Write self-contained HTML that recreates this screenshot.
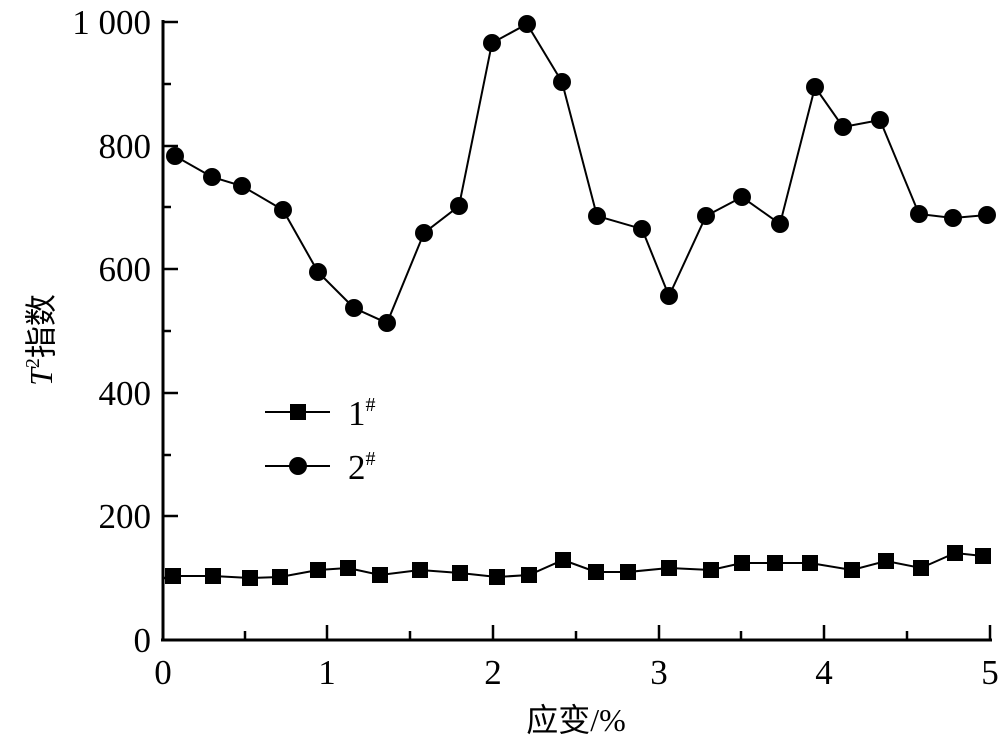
<!DOCTYPE html><html><head><meta charset="utf-8"><style>body{margin:0;background:#fff}</style></head><body>
<svg width="1000" height="744" xmlns="http://www.w3.org/2000/svg" font-family="Liberation Serif, Noto Serif CJK SC, serif">
<g stroke="#000" stroke-width="3" fill="none">
<line x1="163" y1="20" x2="163" y2="641"/><line x1="161" y1="640" x2="992" y2="640"/>
</g>
<g stroke="#000" stroke-width="2.5">
<line x1="163" y1="22" x2="178" y2="22"/><line x1="163" y1="84" x2="171" y2="84"/>
<line x1="163" y1="146" x2="178" y2="146"/><line x1="163" y1="207" x2="171" y2="207"/>
<line x1="163" y1="269" x2="178" y2="269"/><line x1="163" y1="331" x2="171" y2="331"/>
<line x1="163" y1="393" x2="178" y2="393"/><line x1="163" y1="455" x2="171" y2="455"/>
<line x1="163" y1="516" x2="178" y2="516"/><line x1="163" y1="578" x2="171" y2="578"/>
<line x1="245" y1="640" x2="245" y2="631"/><line x1="327" y1="640" x2="327" y2="625"/>
<line x1="410" y1="640" x2="410" y2="631"/><line x1="493" y1="640" x2="493" y2="625"/>
<line x1="576" y1="640" x2="576" y2="631"/><line x1="659" y1="640" x2="659" y2="625"/>
<line x1="741" y1="640" x2="741" y2="631"/><line x1="824" y1="640" x2="824" y2="625"/>
<line x1="907" y1="640" x2="907" y2="631"/><line x1="990" y1="640" x2="990" y2="625"/>
</g>
<g font-size="35" text-anchor="end">
<text x="151" y="34">1 000</text><text x="151" y="158">800</text><text x="151" y="281">600</text>
<text x="151" y="405">400</text><text x="151" y="528">200</text><text x="151" y="652">0</text>
</g>
<g font-size="35" text-anchor="middle">
<text x="163" y="684">0</text><text x="327" y="684">1</text><text x="493" y="684">2</text>
<text x="659" y="684">3</text><text x="824" y="684">4</text><text x="990" y="684">5</text>
<text x="576" y="731" font-family="Liberation Serif, Noto Sans CJK SC, serif" font-size="32">应变/%</text>
</g>
<text transform="translate(52,340) rotate(-90)" text-anchor="middle" font-size="32" font-family="Liberation Serif, Noto Sans CJK SC, serif"><tspan font-style="italic">T</tspan><tspan font-size="20" dy="-13">2</tspan><tspan dy="13">指数</tspan></text>
<polyline fill="none" stroke="#000" stroke-width="2" points="175,156 212,177 242,186 283,210 318,272 354,308 387,323 424,233 459,206 492,43 527,24 562,82 597,216 642,229 669,296 706,216 742,197 780,224 815,87 843,127 880,120 919,214 953,218 987,215"/>
<g fill="#000">
<circle cx="175" cy="156" r="9"/><circle cx="212" cy="177" r="9"/><circle cx="242" cy="186" r="9"/><circle cx="283" cy="210" r="9"/><circle cx="318" cy="272" r="9"/><circle cx="354" cy="308" r="9"/><circle cx="387" cy="323" r="9"/><circle cx="424" cy="233" r="9"/><circle cx="459" cy="206" r="9"/><circle cx="492" cy="43" r="9"/><circle cx="527" cy="24" r="9"/><circle cx="562" cy="82" r="9"/><circle cx="597" cy="216" r="9"/><circle cx="642" cy="229" r="9"/><circle cx="669" cy="296" r="9"/><circle cx="706" cy="216" r="9"/><circle cx="742" cy="197" r="9"/><circle cx="780" cy="224" r="9"/><circle cx="815" cy="87" r="9"/><circle cx="843" cy="127" r="9"/><circle cx="880" cy="120" r="9"/><circle cx="919" cy="214" r="9"/><circle cx="953" cy="218" r="9"/><circle cx="987" cy="215" r="9"/>
</g>
<polyline fill="none" stroke="#000" stroke-width="2" points="173,576 213,576 250,578 280,577 318,570 348,568 380,575 420,570 460,573 497,577 529,575 563,560 596,572 628,572 669,568 711,570 742,563 775,563 810,563 852,570 886,561 921,568 955,553 983,556"/>
<g fill="#000" transform="translate(-8,-8)">
<rect x="173" y="576" width="16" height="16"/><rect x="213" y="576" width="16" height="16"/><rect x="250" y="578" width="16" height="16"/><rect x="280" y="577" width="16" height="16"/><rect x="318" y="570" width="16" height="16"/><rect x="348" y="568" width="16" height="16"/><rect x="380" y="575" width="16" height="16"/><rect x="420" y="570" width="16" height="16"/><rect x="460" y="573" width="16" height="16"/><rect x="497" y="577" width="16" height="16"/><rect x="529" y="575" width="16" height="16"/><rect x="563" y="560" width="16" height="16"/><rect x="596" y="572" width="16" height="16"/><rect x="628" y="572" width="16" height="16"/><rect x="669" y="568" width="16" height="16"/><rect x="711" y="570" width="16" height="16"/><rect x="742" y="563" width="16" height="16"/><rect x="775" y="563" width="16" height="16"/><rect x="810" y="563" width="16" height="16"/><rect x="852" y="570" width="16" height="16"/><rect x="886" y="561" width="16" height="16"/><rect x="921" y="568" width="16" height="16"/><rect x="955" y="553" width="16" height="16"/><rect x="983" y="556" width="16" height="16"/>
</g>
<line x1="265" y1="412" x2="330" y2="412" stroke="#000" stroke-width="2"/>
<rect x="290" y="404" width="16" height="16" fill="#000"/>
<line x1="265" y1="466" x2="330" y2="466" stroke="#000" stroke-width="2"/>
<circle cx="298" cy="466" r="9" fill="#000"/>
<text x="348" y="425" font-size="35">1<tspan font-size="20" dy="-14">#</tspan></text>
<text x="348" y="479" font-size="35">2<tspan font-size="20" dy="-14">#</tspan></text>
</svg></body></html>
